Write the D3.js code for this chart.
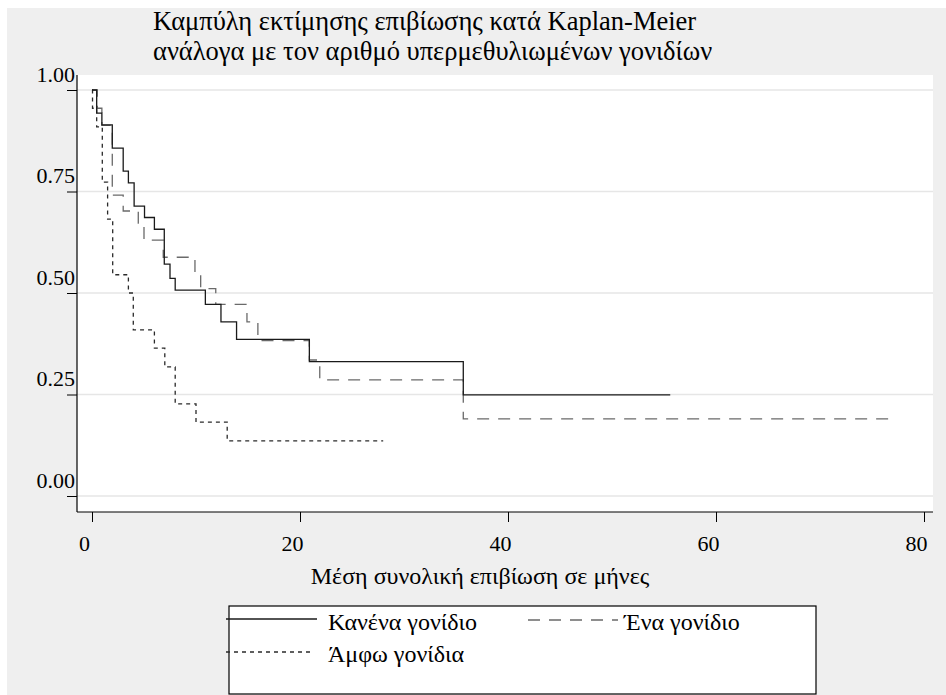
<!DOCTYPE html>
<html>
<head>
<meta charset="utf-8">
<script src="https://cdn.jsdelivr.net/npm/d3@7"></script>
<style>
  html,body{margin:0;padding:0;background:#fff;}
  svg{display:block;font-family:"Liberation Serif","Times New Roman",serif;}
</style>
</head>
<body>
<svg id="chart"></svg>
<script>
// ---------- DATA --------------------------------------------------------
const titleLines = ['Καμπύλη εκτίμησης επιβίωσης κατά Kaplan-Meier',
                    'ανάλογα με τον αριθμό υπερμεθυλιωμένων γονιδίων'];
const xTitle = 'Μέση συνολική επιβίωση σε μήνες';
const xTicks = [0, 20, 40, 60, 80];
const yTicks = [0, 0.25, 0.5, 0.75, 1];
const groupNames = ['Κανένα γονίδιο', 'Ένα γονίδιο', 'Άμφω γονίδια'];

// Kaplan-Meier steps (months, survival)
const timeNone = [0, 0.45, 0.95, 1.95, 3.0, 3.5, 4.05, 5.05, 6.0, 6.95, 7.5, 8.0, 10.9, 12.4, 13.9, 20.9, 35.7, 55.6];
const survNone = [1, 0.943, 0.914, 0.857, 0.800, 0.771, 0.714, 0.686, 0.657, 0.571, 0.536, 0.507, 0.472, 0.429, 0.386, 0.331, 0.249, 0.249];

const timeOne = [0, 0.5, 0.95, 1.95, 3.0, 4.45, 5.0, 6.85, 9.9, 10.45, 11.9, 14.9, 15.95, 20.9, 21.9, 35.7, 76.9];
const survOne = [1, 0.955, 0.913, 0.741, 0.702, 0.672, 0.630, 0.588, 0.550, 0.511, 0.472, 0.429, 0.383, 0.335, 0.286, 0.190, 0.190];

const timeBoth = [0, 0.05, 0.45, 0.99, 1.5, 1.99, 3.5, 3.97, 6.0, 7.0, 8.0, 10.0, 13.0, 28.0];
const survBoth = [1, 0.955, 0.909, 0.773, 0.682, 0.545, 0.500, 0.409, 0.364, 0.318, 0.227, 0.182, 0.136, 0.136];

// ---------- LAYOUT ------------------------------------------------------
const W = 946, H = 695;
const PLOT = {left:77, right:933, top:75, bottom:512};
const STYLES = [
  {color:'#1a1a1a', dash:null},
  {color:'#6a6a6a', dash:'12,9'},
  {color:'#2a2a2a', dash:'4,4'}
];

const svg = d3.select('#chart').attr('width', W).attr('height', H);

// outer grey background (thin white strip top/left like the original)
svg.append('rect').attr('x',7).attr('y',8).attr('width',W-7).attr('height',H-8).attr('fill','#efefef');
svg.append('rect')
   .attr('x',PLOT.left).attr('y',PLOT.top)
   .attr('width',PLOT.right-PLOT.left).attr('height',PLOT.bottom-PLOT.top)
   .attr('fill','#fff');

// scales
const x = d3.scaleLinear().domain([0, 80]).range([92, 924]);
const y = d3.scaleLinear().domain([0, 1]).range([496, 90]);

// gridlines
svg.append('g').selectAll('line').data(yTicks).join('line')
   .attr('x1',PLOT.left).attr('x2',PLOT.right)
   .attr('y1',d=>y(d)).attr('y2',d=>y(d))
   .attr('stroke','#e6e6e6').attr('stroke-width',1.5);

// y axis
const yAxis = svg.append('g').attr('transform',`translate(${PLOT.left},0)`)
   .call(d3.axisLeft(y).tickValues(yTicks).tickSize(10).tickFormat(d3.format('.2f')));
yAxis.select('.domain').remove();
yAxis.selectAll('line').attr('stroke','#000');
yAxis.selectAll('text')
   .attr('x',-2).attr('y',-9).attr('dy',0)
   .attr('font-family','Liberation Serif').attr('font-size',22).attr('fill','#000');
svg.append('line').attr('x1',PLOT.left).attr('x2',PLOT.left)
   .attr('y1',PLOT.top).attr('y2',PLOT.bottom).attr('stroke','#000').attr('stroke-width',1.2);

// x axis
const xAxis = svg.append('g').attr('transform',`translate(0,${PLOT.bottom})`)
   .call(d3.axisBottom(x).tickValues(xTicks).tickSize(10).tickFormat(d3.format('d')));
xAxis.select('.domain').remove();
xAxis.selectAll('line').attr('stroke','#000');
xAxis.selectAll('text')
   .attr('x',-8).attr('y',39).attr('dy',0)
   .attr('font-family','Liberation Serif').attr('font-size',22).attr('fill','#000');
svg.append('line').attr('x1',PLOT.left).attr('x2',PLOT.right)
   .attr('y1',PLOT.bottom).attr('y2',PLOT.bottom).attr('stroke','#000').attr('stroke-width',1.2);

svg.append('text').attr('x',480).attr('y',584).attr('text-anchor','middle')
   .attr('font-size',24).text(xTitle);

// title
svg.selectAll('.title').data(titleLines).join('text')
   .attr('class','title')
   .attr('x',153).attr('y',(d,i)=>30+i*30)
   .attr('font-size',26.5).text(d=>d);

// curves
const series = [
  d3.zip(timeNone, survNone),
  d3.zip(timeOne,  survOne),
  d3.zip(timeBoth, survBoth)
];
const line = d3.line().curve(d3.curveStepAfter).x(d=>x(d[0])).y(d=>y(d[1]));
// draw dotted and dashed first, solid on top
[1, 2, 0].forEach(i=>{
  svg.append('path').datum(series[i])
     .attr('fill','none')
     .attr('stroke',STYLES[i].color)
     .attr('stroke-width',1.3)
     .attr('stroke-dasharray',STYLES[i].dash)
     .attr('d',line);
});

// legend
const lg = svg.append('g');
lg.append('rect').attr('x',229).attr('y',606).attr('width',587).attr('height',88)
  .attr('fill','#fff').attr('stroke','#000').attr('stroke-width',1.2);
const legendPos = [
  {lx:226, lx2:317, ly:619, tx:328, ty:630},
  {lx:528, lx2:618, ly:620, tx:624, ty:630},
  {lx:226, lx2:310, ly:652, tx:328, ty:662}
];
legendPos.forEach((p,i)=>{
  lg.append('line').attr('x1',p.lx).attr('x2',p.lx2).attr('y1',p.ly).attr('y2',p.ly)
    .attr('stroke',STYLES[i].color).attr('stroke-width',1.3)
    .attr('stroke-dasharray',STYLES[i].dash);
  lg.append('text').attr('x',p.tx).attr('y',p.ty).attr('font-size',24).text(groupNames[i]);
});
</script>
</body>
</html>
